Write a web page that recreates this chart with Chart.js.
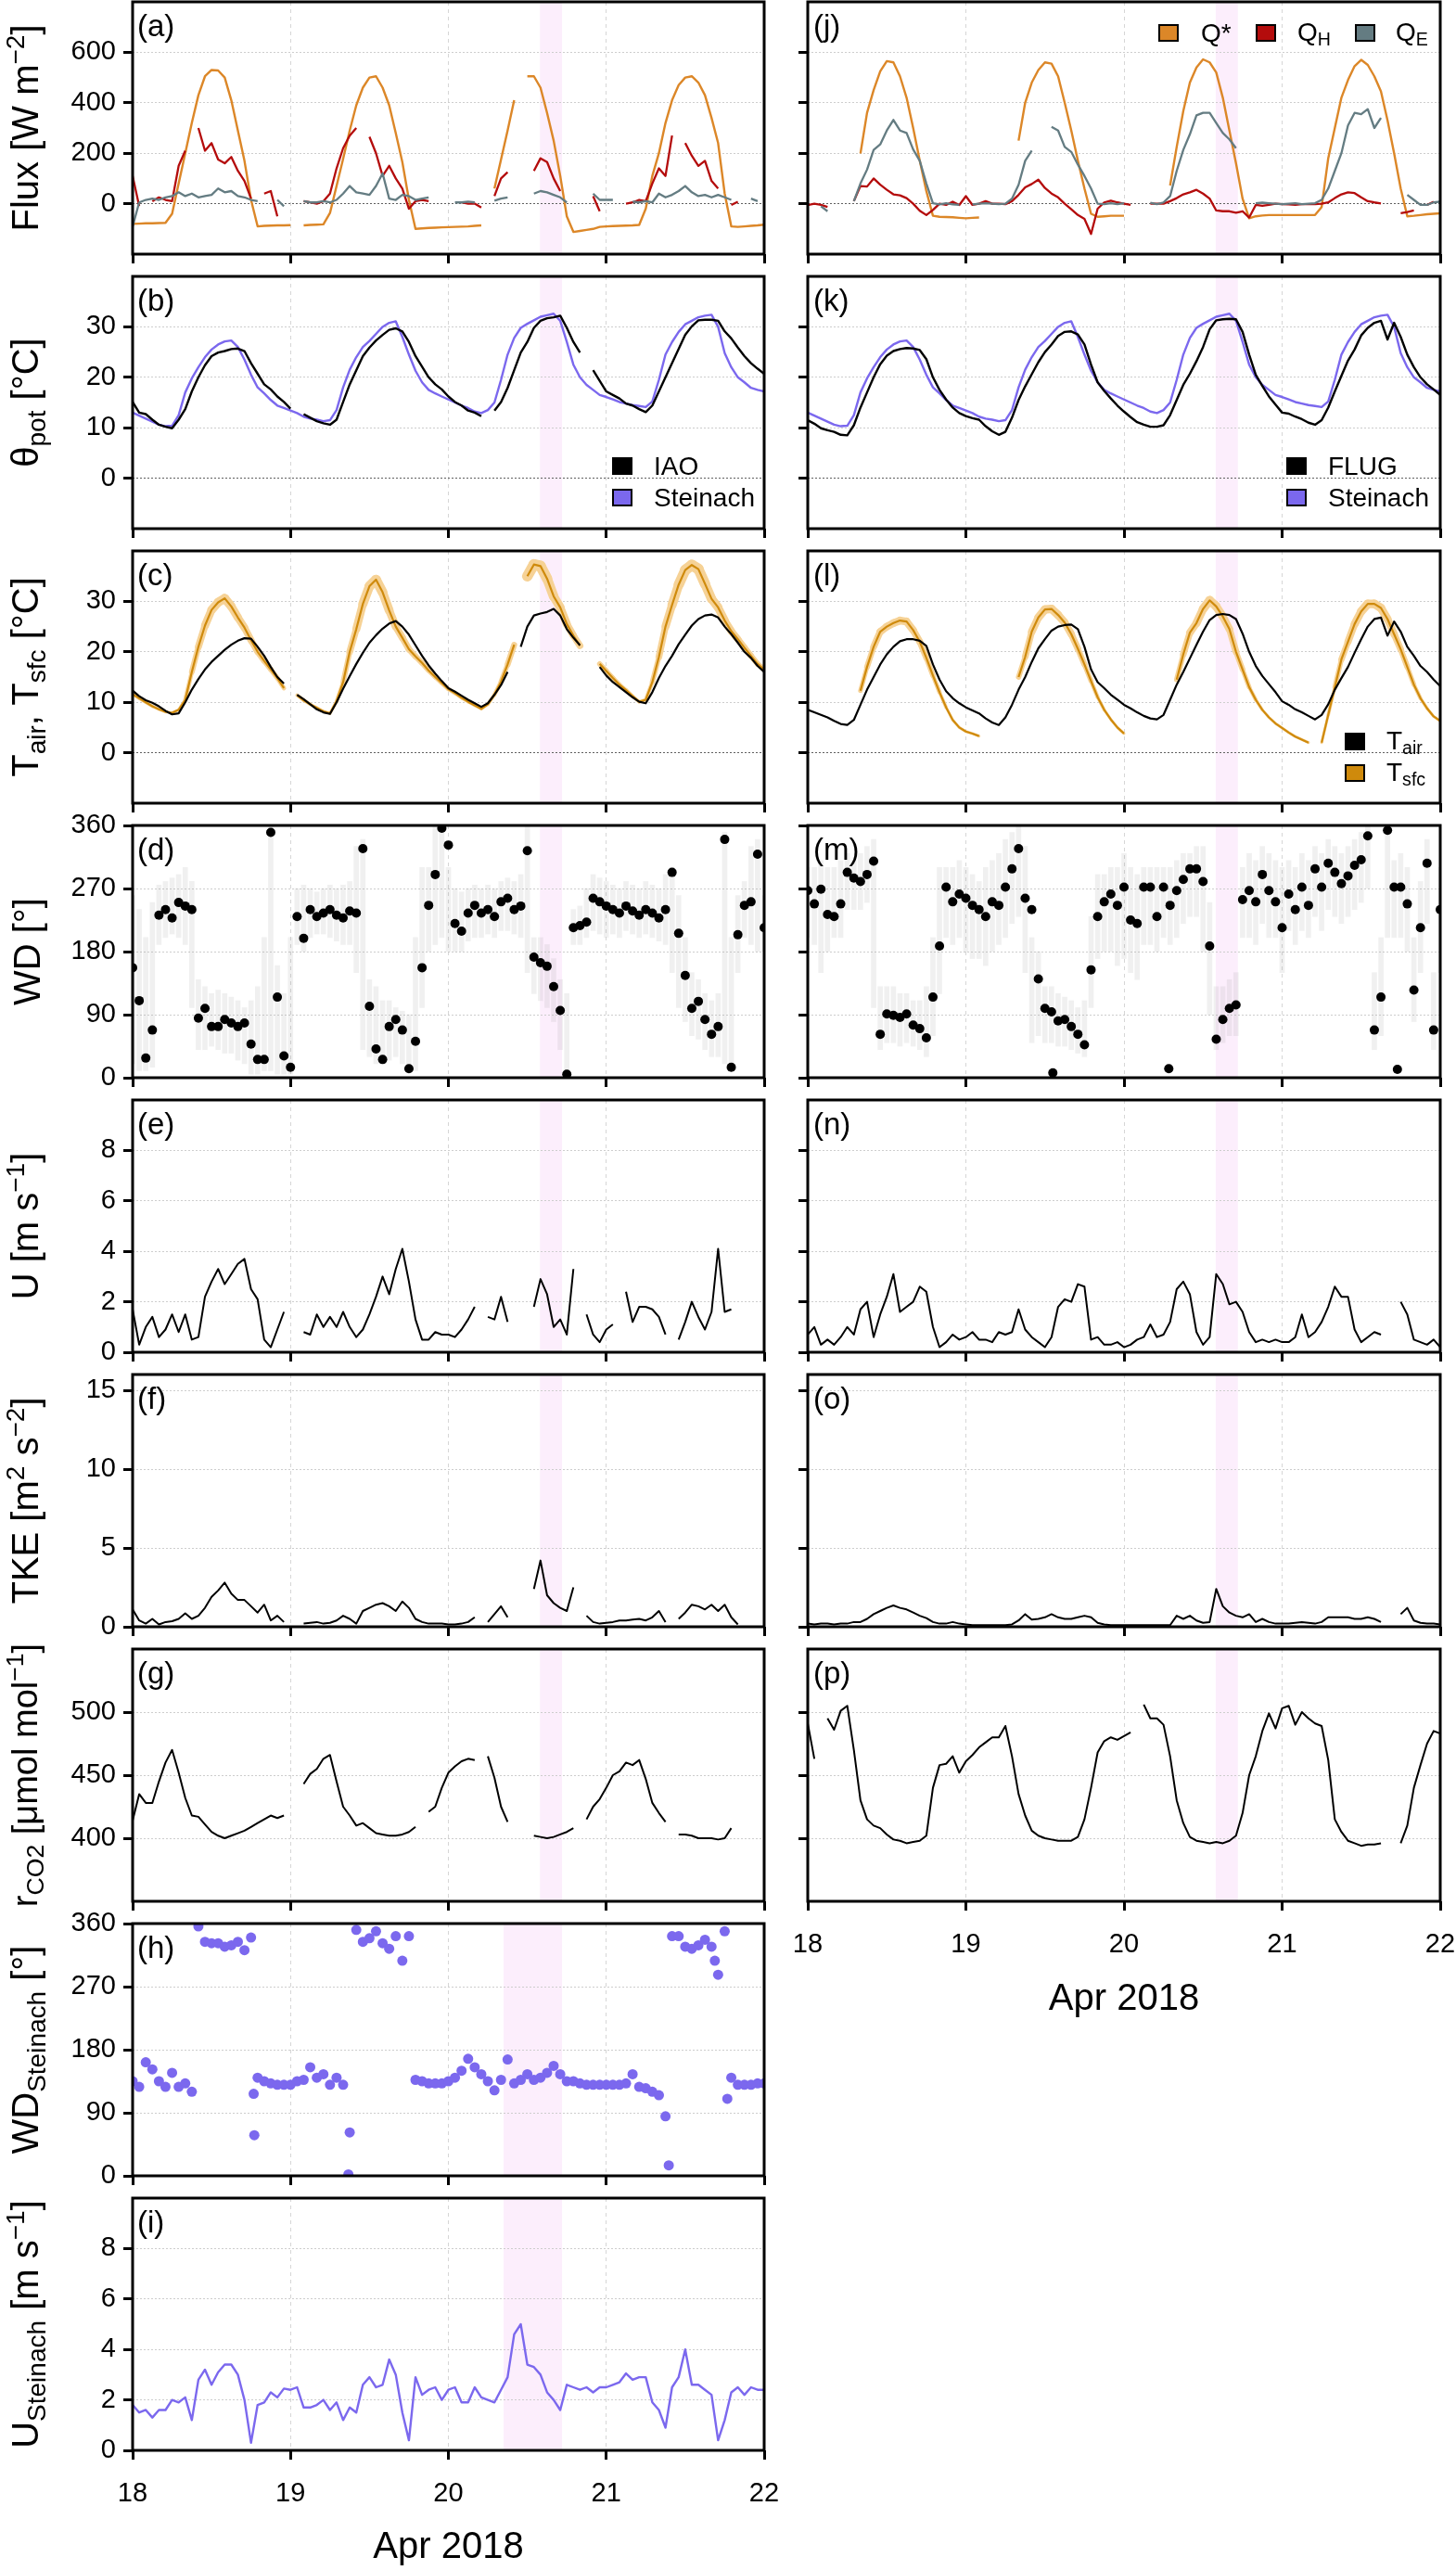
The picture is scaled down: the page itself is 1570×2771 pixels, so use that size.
<!DOCTYPE html>
<html>
<head>
<meta charset="utf-8">
<title>Fluxes and meteorology, 18-22 Apr 2018</title>
<script src="https://cdn.jsdelivr.net/npm/chart.js@4.4.1/dist/chart.umd.min.js"></script>
<style>
  html, body { margin: 0; padding: 0; background: #fff; }
  body { position: relative; width: 1570px; height: 2771px; overflow: hidden; font-family: "Liberation Sans", Arial, sans-serif; color: #000; }
  canvas { position: absolute; }
  .yt { position: absolute; left: 29px; transform: translate(-50%, -50%) rotate(-90deg); font-size: 40px; line-height: 40px; white-space: nowrap; }
  .tag { position: absolute; font-size: 33px; line-height: 33px; white-space: nowrap; }
  .sq { position: absolute; width: 22px; height: 19px; border: 2px solid #000; box-sizing: border-box; }
  .lab { position: absolute; font-size: 28px; line-height: 28px; transform: translateY(-50%); white-space: nowrap; }
  .sub { font-size: 0.7em; position: relative; top: 0.28em; }
  .sup { font-size: 0.7em; position: relative; top: -0.55em; }
</style>
</head>
<body>
<script>
// x axis: hourly values, index 0 = 18 Apr 00:00 ... index 96 = 22 Apr 00:00
const dayTicks = [18, 19, 20, 21, 22];
const eventSpan = [20.58, 20.72];          // pink band, panels a-g, j-p
const eventSpanSteinach = [20.35, 20.72];  // pink band, panels h-i

// (a) IAO fluxes [W m-2]
const qStarIao = [
  -80, -79, -78, -78, -77, -76, -40, 80, 200, 320, 430, 505, 530, 528, 500, 410, 290, 170, 15, -90, -88, -87, -86, -86,
  -85, null, -86, -84, -83, -82, -37, 70, 178, 290, 390, 460, 500, 505, 460, 390, 280, 165, 15, -100, -98, -96, -95, -94,
  -93, -92, -91, -90, -88, -86, null, 60, 175, 290, 410, null, 505, 505, 460, 360, 250, 110, -50, -112, -108, -104, -100, -92,
  -90, -89, -88, -87, -86, -84, -20, 110, 200, 320, 410, 470, 500, 505, 480, 430, 340, 240, 40, -90, -92, -90, -88, -86, -83];
const qhIao = [
  110, -10, null, 10, 25, 15, 10, 150, 210, null, 300, 210, 240, 175, 160, 185, 130, 90, 20, null, 40, 50, -50, null,
  null, null, 10, 5, 0, 10, 40, 140, 220, 270, 300, null, 265, 200, 110, 150, 100, 60, -20, 10, 15, 10, null, null,
  null, null, 5, 0, 0, -15, null, 30, 100, 125, null, null, null, 130, 180, 165, 100, 50, null, null, null, null, 30, -30,
  null, null, null, 0, 5, 15, 10, 80, 140, 110, 270, null, 240, 190, 150, 170, 90, 60, null, -5, 8, null, null, null, null];
const qeIao = [
  -90, 5, 15, 20, 15, 25, 30, 45, 30, 40, 25, 30, 35, 60, 45, 50, 30, 25, 15, 10, null, null, 15, -10,
  null, null, 10, 5, 5, 10, 5, 15, 40, 70, 45, 40, 35, 70, 120, 20, 15, 35, 30, 15, 20, 25, null, null,
  null, 5, 5, 8, 5, null, null, 12, 20, 25, null, null, null, 40, 50, 45, 35, 25, 5, null, null, null, 40, 15,
  15, 15, null, null, 8, 5, 10, 5, 40, 25, 35, 50, 70, 45, 30, 35, 25, 35, 25, 15, null, null, 20, 10, null];

// (j) FLUG fluxes [W m-2]
const qStarFlug = [
  null, null, null, null, null, null, null, null, 199, 360, 450, 525, 565, 560, 505, 420, 300, 170, 50, -48, -52, -53, -54, -56,
  -58, -56, -55, null, null, null, null, null, 250, 400, 480, 530, 560, 555, 505, 400, 290, 170, 60, -40, -52, -50, -48, -48,
  -48, null, null, null, null, null, null, 72, 225, 367, 480, 540, 572, 560, 520, 420, 290, 160, 20, -58, -50, -47, -45, -45,
  -45, -45, -45, -45, -45, -45, -13, 180, 300, 420, 490, 545, 570, 550, 505, 445, 330, 200, 60, -50, -48, -45, -42, -40, -38];
const qhFlug = [
  -6, 0, -5, -13, null, null, null, 10, 70, 68, 100, 75, 55, 37, 33, 22, 0, -28, -45, -25, 0, -5, 8, -5,
  30, -5, 0, 10, 0, 0, -2, 10, 35, 65, 78, 95, 62, 40, 25, 0, -22, -45, -60, -120, -20, 5, 12, 5,
  0, -5, null, null, 0, 0, 0, 10, 22, 37, 45, 55, 40, 20, -27, -30, -30, -36, -30, -55, -5, -8, -5, 0,
  -2, -3, -5, -2, -2, -2, 0, 5, 22, 37, 45, 42, 25, 10, 5, 1, null, null, -38, -33, -27, null, -5, 8, null];
const qeFlug = [
  null, null, -10, -30, null, null, null, 10, 80, 135, 213, 235, 290, 332, 290, 280, 215, 170, 80, 2, -3, 2, -3, -5,
  null, -3, 0, 2, 0, -2, 0, 20, 75, 170, 210, null, null, 305, 290, 225, 205, 155, 110, 60, 0, -2, 2, -2,
  2, null, null, null, 4, -2, 5, 30, 130, 213, 275, 350, 360, 360, 320, 280, 255, 220, null, null, 2, 4, 2, 0,
  -2, 0, 2, -2, 0, 2, 15, 60, 130, 200, 310, 360, 355, 375, 300, 340, null, null, null, 35, 15, -5, -5, 5, 8];

// (b)/(k) potential temperature [°C]
const thetaIao = [
  15.1, 13, 12.7, 11.6, 10.6, 10.2, 9.9, 11.6, 13.7, 17.2, 20, 22.4, 24.2, 24.9, 25.2, 25.6, 25.7, 25.2, 22.8, 20.7, 18.6, 17.6, 16.2, 15.1,
  13.8, null, 12.7, 12, 11.3, 10.9, 10.6, 11.6, 15.1, 18.6, 21.4, 24.2, 25.9, 27.3, 28.4, 29.4, 29.7, 29.1, 27, 24.2, 22.1, 20, 18.6, 17.6,
  16.2, 15.1, 14.4, 13.4, 13, 12.3, null, 13.4, 15.1, 17.9, 21.4, 24.9, 27, 29.8, 31.2, 31.7, 31.9, 32.2, 29.8, 27, 24.9, null, 21.4, 19.3,
  17.2, 16.5, 15.8, 14.8, 14.4, 13.7, 13.1, 14.4, 17.2, 20, 22.8, 25.6, 28.4, 30.1, 31.3, 31.4, 31.4, 31.2, 29.1, 27.7, 25.9, 24.2, 22.8, 21.7, 20.7];
const thetaSteinach = [
  13, 12.4, 11.8, 11.2, 10.6, 10.3, 10.4, 12.5, 17, 19.8, 22, 24, 25.5, 26.5, 27.1, 27.3, 26, 23.5, 20.5, 18, 16.8, 15.5, 14.4, 13.9,
  13.4, 12.9, 12.2, 11.8, 11.6, 11.3, 11.5, 13.5, 18, 21.5, 24, 26, 27.2, 28.6, 30, 30.8, 31.1, 28, 24.5, 21.3, 19, 17.5, 16.8, 16.2,
  15.6, 15, 14.4, 13.9, 13.2, 12.9, 13.5, 15, 19.5, 24.5, 27.8, 29.8, 30.6, 31.3, 32, 32.3, 32.6, 31.2, 27, 22.5, 20, 18.5, 17.5, 16.5,
  16.1, 15.6, 15.1, 14.8, 14.5, 14.3, 14.1, 15.2, 19.5, 24.5, 27, 29, 30.5, 31.2, 31.9, 32.2, 32.4, 30, 24.8, 22, 20, 19, 17.9, 17.5, 17.2];
const thetaFlug = [
  11.5, 10.8, 9.9, 9.5, 9.2, 8.6, 8.5, 10.5, 14, 17, 20, 22.6, 24.3, 25.2, 25.6, 25.8, 25.7, 25.4, 23.6, 20, 17.5, 15.6, 14, 12.9,
  12.3, 11.9, 11.6, 10.3, 9.3, 8.6, 9.2, 12, 15.5, 18.2, 20.6, 23, 25, 26.5, 28.2, 29, 29.1, 28.5, 26.5, 22.5, 19, 17.3, 15.8, 14.4,
  13.2, 12.1, 11.1, 10.6, 10.2, 10.2, 10.5, 12.5, 15.5, 18.5, 20.7, 23.2, 26, 29.5, 31.3, 31.5, 31.6, 31.5, 29, 24.5, 20.5, 18.3, 16.2, 14.6,
  13, 12.8, 12.2, 11.7, 11, 10.6, 11.5, 14, 17.2, 20.3, 23.3, 25.5, 28.3, 29.8, 30.8, 31.2, 27.5, 30.8, 28, 24.5, 22, 20, 18.6, 17.6, 16.5];

// (c)/(l) air and surface temperature [°C]
const tairIao = [
  12.3, 11.2, 10.4, 9.9, 9.2, 8.3, 7.6, 7.8, 10, 12.5, 14.6, 16.5, 18, 19.2, 20.4, 21.4, 22.2, 22.7, 22.6, 21, 19.2, 17, 15, 13.7,
  null, 11.5, 10.6, 9.6, 8.6, 8, 7.7, 10, 12.7, 15.2, 17.6, 19.8, 21.8, 23.3, 24.6, 25.6, 26.1, 25, 23.4, 21.3, 19.2, 17.3, 15.7, 14.2,
  12.8, 12.1, 11.3, 10.5, 9.8, 9.1, 9.8, 11.5, 13.4, 16, null, 21, 25, 27.2, 27.6, 27.9, 28.5, 27.2, 24.5, 22.8, 21.3, null, null, 17,
  15.3, 14, 13, 12, 11, 10.1, 9.8, 12, 14.8, 17.2, 19.2, 21.5, 23.4, 25.2, 26.5, 27.2, 27.4, 26.8, 25, 23.5, 21.8, 20, 18.8, 17.2, 16];
const tsfcIao = [
  11.6, 10.8, 10, 9.2, 8.6, 8.1, 7.9, 8.5, 10.5, 16, 21, 25.2, 28.3, 29.8, 30.6, 29, 26.8, 24.8, 22.3, 20, 18.2, 16.5, 14.8, 12.8,
  null, 11.4, 10.4, 9.6, 8.9, 8.2, 7.8, 10.2, 14, 20, 24.5, 29.5, 33, 34.3, 31.8, 28.2, 25, 22.8, 20.5, 19.1, 17.8, 16.3, 15, 13.8,
  12.6, 11.8, 10.9, 10.1, 9.4, 8.7, 9.6, 11.5, 14.1, 17.5, 21.4, null, 35, 37.3, 37, 34.5, 31, 28.8, 25.5, 23.2, 21.2, null, null, 17.6,
  16.2, 14.8, 13.5, 12.4, 11.2, 10.1, 10.5, 14, 19, 25, 29.3, 33.3, 36.2, 37.2, 36.4, 33.5, 30.5, 28.8, 26.2, 24.1, 22.5, 20.8, 19.2, 17.6, 16.5];
const tairFlug = [
  8.5, 8, 7.5, 7, 6.3, 5.7, 5.5, 6.5, 9.5, 12.5, 15, 17.5, 19.5, 21, 22.1, 22.5, 22.5, 22.2, 21.2, 17.5, 14.5, 12.2, 10.8, 9.8,
  9, 8.4, 7.8, 6.8, 6, 5.5, 7, 9.5, 12.5, 15, 18, 20.7, 22.5, 24.2, 25, 25.3, 25.4, 24.5, 21, 16.5, 14, 12.8, 11.5, 10.5,
  9.5, 8.8, 8, 7.3, 6.8, 6.6, 7.5, 10.5, 13.5, 16, 18.7, 21.4, 24, 26.3, 27.3, 27.5, 27.3, 26.5, 23.6, 20, 17.2, 15.2, 13.6, 12,
  10.2, 9.5, 8.6, 8, 7.3, 6.6, 7.5, 9.6, 12.5, 14.8, 17, 19.8, 22.5, 25, 26.5, 26.8, 23.2, 26, 24, 21, 19.2, 17.2, 16, 14.5, 13.2];
const tsfcFlug = [
  null, null, null, null, null, null, null, null, 12.3, 17, 21, 24, 25, 25.7, 26.2, 26, 24.3, 22, 18.8, 15.3, 12, 9, 6.5, 5,
  4.2, 3.8, 3.3, null, null, null, null, null, 15, 19, 24, 26.8, 28.4, 28.5, 27.3, 25.8, 23.5, 20.6, 17.5, 14.2, 11, 8.5, 6.6, 5,
  3.8, null, null, null, null, null, null, null, 14.5, 19.5, 23.8, 25.7, 28.5, 30.2, 29, 27, 24.5, 20, 16.5, 13, 10.5, 8.5, 7, 5.8,
  4.9, 4, 3.2, 2.6, 2, null, 2, 7.5, 13, 18.5, 22, 25.5, 28, 29.5, 29.5, 28.7, 26.5, 23.5, 20.5, 17, 13.5, 10.8, 8.8, 7.2, 6.3];

// (d)/(m) wind direction [°]: hourly means and spread of the 10-min values
const wdIao = [
  157, 110, 28, 68, 232, 240, 228, 250, 245, 240, 85, 99, 73, 73, 83, 78, 73, 78, 48, 26, 26, 350, 115, 31,
  15, 230, 199, 240, 230, 235, 240, 232, 228, 238, 235, 327, 102, 41, 26, 73, 83, 68, 13, 52, 157, 246, 290, 356,
  332, 220, 209, 235, 246, 235, 240, 230, 251, 256, 240, 245, 324, 172, 164, 159, 130, 96, 5, 214, 217, 222, 256, 251,
  245, 240, 235, 245, 238, 232, 240, 235, 228, 240, 293, 206, 146, 99, 109, 83, 62, 73, 340, 15, 204, 246, 251, 319, 214];
const wdIaoLo = [
  20, 10, 10, 15, 190, 200, 205, 200, 190, 100, 40, 40, 45, 40, 35, 35, 25, 20, 5, 5, 10, 10, 5, 5,
  5, 190, 180, 200, 205, 205, 200, 195, 190, 190, 150, 40, 30, 20, 20, 25, 30, 20, 10, 10, 100, 180, 190, 200,
  180, 180, 180, 195, 200, 200, 205, 200, 210, 210, 205, 200, 150, 120, 110, 100, 80, 40, 0, 190, 190, 200, 210, 205,
  200, 205, 200, 210, 205, 200, 205, 200, 195, 190, 150, 100, 80, 60, 55, 40, 30, 30, 20, 10, 150, 200, 190, 180, 180];
const wdIaoHi = [
  260, 240, 200, 250, 275, 280, 285, 290, 300, 280, 140, 130, 120, 125, 120, 115, 110, 100, 110, 130, 200, 360, 160, 120,
  200, 270, 275, 270, 265, 270, 275, 270, 275, 280, 330, 340, 140, 130, 110, 110, 100, 95, 90, 200, 300, 300, 360, 360,
  300, 270, 265, 270, 275, 270, 275, 270, 280, 285, 280, 290, 360, 200, 200, 190, 170, 140, 120, 240, 245, 270, 290, 285,
  280, 275, 270, 280, 275, 270, 280, 275, 270, 290, 300, 260, 200, 150, 140, 120, 110, 120, 350, 200, 260, 280, 330, 340, 260];
const wdFlug = [
  267, 248, 269, 233, 230, 248, 293, 285, 280, 290, 309, 62, 91, 89, 86, 91, 75, 70, 57, 115, 188, 272, 251, 262,
  256, 246, 240, 230, 251, 246, 272, 298, 327, 256, 240, 141, 99, 94, 81, 83, 73, 62, 47, 154, 230, 251, 262, 246,
  272, 225, 220, 272, 272, 230, 272, 246, 267, 283, 298, 298, 280, 188, 55, 83, 99, 104, 254, 267, 251, 290, 267, 251,
  214, 262, 240, 272, 246, 298, 272, 306, 293, 277, 288, 303, 311, 345, 68, 115, 353, 272, 272, 248, 125, 214, 306, 68, 240];
const wdFlugExtraHour = [37.2, 54.8, 89.5];
const wdFlugExtra = [7, 13, 12];
const wdFlugLo = [
  200, 190, 150, 180, 200, 200, 240, 240, 240, 250, 100, 40, 50, 50, 45, 50, 45, 40, 30, 60, 120, 200, 190, 200,
  180, 170, 170, 160, 180, 190, 200, 220, 230, 150, 50, 60, 50, 50, 45, 45, 40, 35, 30, 100, 170, 180, 180, 160,
  170, 150, 140, 190, 190, 180, 200, 190, 200, 220, 230, 230, 180, 90, 40, 50, 60, 60, 200, 200, 190, 220, 200, 200,
  150, 210, 190, 210, 200, 230, 210, 240, 230, 220, 230, 240, 250, 270, 40, 60, 200, 200, 200, 180, 80, 150, 220, 40, 150];
const wdFlugHi = [
  300, 300, 310, 300, 300, 310, 320, 310, 320, 330, 340, 130, 130, 130, 120, 120, 110, 110, 130, 200, 300, 300, 300, 310,
  300, 290, 280, 300, 310, 320, 340, 350, 360, 330, 200, 180, 130, 130, 120, 115, 110, 100, 110, 230, 290, 290, 300, 300,
  320, 300, 290, 300, 300, 300, 300, 300, 310, 320, 320, 330, 330, 250, 130, 130, 140, 150, 300, 320, 310, 330, 320, 310,
  300, 310, 300, 320, 310, 330, 320, 340, 330, 320, 330, 340, 350, 360, 150, 200, 360, 310, 320, 300, 200, 280, 340, 150, 300];

// (e)/(n) wind speed [m s-1]
const uIao = [
  1.7, 0.3, 1.0, 1.4, 0.6, 0.9, 1.5, 0.8, 1.5, 0.5, 0.6, 2.2, 2.8, 3.3, 2.7, 3.1, 3.5, 3.7, 2.5, 2.1, 0.5, 0.2, 0.9, 1.6,
  null, null, 0.8, 0.7, 1.5, 1.0, 1.4, 1.0, 1.6, 1.0, 0.6, 0.9, 1.5, 2.2, 3.0, 2.3, 3.3, 4.1, 2.8, 1.3, 0.5, 0.5, 0.8, 0.7,
  0.7, 0.6, 0.9, 1.3, 1.8, null, 1.4, 1.3, 2.2, 1.2, null, null, null, 1.8, 2.9, 2.3, 1.0, 1.3, 0.7, 3.3, null, 1.5, 0.7, 0.4,
  0.9, 1.1, null, 2.4, 1.2, 1.8, 1.8, 1.7, 1.4, 0.7, null, 0.5, 1.2, 2.0, 1.4, 0.9, 1.6, 4.1, 1.6, 1.7, null, null, null, null, null];
const uFlug = [
  0.7, 1.0, 0.3, 0.5, 0.3, 0.6, 1.0, 0.7, 1.7, 2.0, 0.6, 1.5, 2.2, 3.1, 1.6, 1.8, 2.0, 2.6, 2.4, 1.0, 0.2, 0.4, 0.7, 0.5,
  0.6, 0.8, 0.5, 0.5, 0.4, 0.8, 0.7, 0.8, 1.7, 0.9, 0.6, 0.4, 0.2, 0.6, 1.8, 2.1, 2.0, 2.7, 2.6, 0.5, 0.6, 0.3, 0.3, 0.4,
  0.2, 0.3, 0.5, 0.6, 1.1, 0.6, 0.7, 1.2, 2.5, 2.8, 2.3, 0.8, 0.3, 0.6, 3.1, 2.7, 1.9, 2.0, 1.6, 0.8, 0.4, 0.5, 0.4, 0.5,
  0.4, 0.4, 0.6, 1.5, 0.6, 0.8, 1.2, 1.8, 2.6, 2.2, 2.2, 0.9, 0.4, 0.6, 0.8, 0.7, null, null, 2.0, 1.5, 0.5, 0.4, 0.3, 0.5, 0.2];

// (f)/(o) turbulent kinetic energy [m2 s-2]
const tkeIao = [
  1.1, 0.4, 0.2, 0.5, 0.15, 0.3, 0.35, 0.5, 0.85, 0.5, 0.7, 1.2, 1.9, 2.3, 2.8, 2.1, 1.7, 1.7, 1.3, 0.9, 1.4, 0.4, 0.7, 0.3,
  null, null, 0.2, 0.25, 0.3, 0.2, 0.25, 0.4, 0.7, 0.5, 0.2, 1.0, 1.2, 1.4, 1.5, 1.3, 1.0, 1.6, 1.2, 0.5, 0.3, 0.2, 0.2, 0.2,
  0.15, 0.15, 0.2, 0.3, 0.6, null, 0.3, 0.8, 1.3, 0.6, null, null, null, 2.4, 4.2, 2.0, 1.5, 1.2, 1.0, 2.5, null, 0.7, 0.3, 0.2,
  0.25, 0.3, 0.4, 0.4, 0.45, 0.5, 0.4, 0.6, 1.0, 0.3, null, 0.5, 0.9, 1.4, 1.3, 1.1, 1.4, 1.0, 1.4, 0.6, 0.15, null, null, null, null];
const tkeFlug = [
  0.2, 0.15, 0.2, 0.2, 0.15, 0.2, 0.2, 0.3, 0.3, 0.5, 0.8, 1.0, 1.2, 1.35, 1.2, 1.1, 0.9, 0.7, 0.55, 0.3, 0.2, 0.2, 0.3, 0.2,
  0.15, 0.1, 0.1, 0.1, 0.1, 0.1, 0.1, 0.15, 0.4, 0.8, 0.45, 0.5, 0.6, 0.8, 0.6, 0.5, 0.5, 0.6, 0.7, 0.6, 0.25, 0.15, 0.1, 0.1,
  0.1, 0.1, 0.1, 0.1, 0.1, 0.1, 0.1, 0.1, 0.7, 0.5, 0.7, 0.4, 0.25, 0.3, 2.4, 1.3, 0.9, 0.7, 0.6, 0.8, 0.3, 0.5, 0.3, 0.2,
  0.2, 0.2, 0.25, 0.3, 0.25, 0.2, 0.3, 0.6, 0.6, 0.6, 0.6, 0.5, 0.5, 0.6, 0.5, 0.3, null, null, 0.8, 1.2, 0.4, 0.25, 0.2, 0.2, 0.15];

// (g)/(p) CO2 mixing ratio [µmol mol-1]
const co2Iao = [
  414, 435, 428, 428, 445, 460, 470, 452, 432, 418, 417, 411, 405, 402, 400, 402, 404, 406, 409, 412, 415, 418, 416, 418,
  null, null, 443, 451, 455, 463, 466, 445, 425, 418, 410, 412, 408, 404, 403, 402, 402, 403, 405, 409, null, 421, 425, 440,
  452, 457, 461, 463, 462, null, 465, 448, 425, 413, null, null, null, 402, 401, 400, 401, 403, 405, 408, null, 415, 425, 431,
  440, 450, 453, 460, 458, 462, 447, 428, 420, 413, null, 403, 403, 402, 400, 400, 400, 399, 400, 408, null, null, null, null, null];
const co2Flug = [
  491, 463, null, 495, 486, 501, 505, 470, 430, 415, 410, 408, 403, 399, 398, 396, 397, 398, 402, 440, 458, 459, 465, 452,
  461, 466, 472, 476, 480, 480, 489, 465, 435, 418, 406, 402, 400, 399, 398, 398, 398, 401, 415, 440, 468, 477, 480, 478,
  481, 484, null, 506, 495, 495, 490, 465, 430, 412, 401, 398, 397, 396, 397, 396, 398, 402, 420, 450, 465, 485, 499, 487,
  503, 505, 490, 500, 495, 491, 489, 462, 415, 405, 398, 396, 394, 395, 395, 396, null, null, 396, 410, 440, 458, 475, 485, 483];

// (h)/(i) Steinach wind direction [°] and speed [m s-1]
const wdSteinach = [
  135, 127, 162, 152, 135, 127, 147, 127, 132, 120, 356, 334, 332, 332, 327, 329, 334, 322, 340, 140, 135, 132, 130, 130,
  130, 135, 137, 155, 140, 145, 130, 140, 130, 62, 351, 334, 339, 349, 332, 324, 342, 307, 342, 137, 135, 132, 132, 132,
  135, 140, 150, 167, 155, 145, 135, 122, 137, 166, 132, 137, 145, 137, 140, 147, 157, 145, 135, 135, 132, 130, 130, 130,
  130, 130, 130, 132, 145, 127, 125, 120, 115, 85, 342, 342, 327, 324, 329, 337, 327, 287, 349, 140, 130, 130, 130, 132, 132];
const wdSteinachExtraHour = [18.4, 18.5, 32.8, 81.5, 88.5, 90.4];
const wdSteinachExtra = [117, 58, 2, 15, 307, 110];
const uSteinach = [
  1.8, 1.5, 1.6, 1.3, 1.6, 1.6, 2.0, 1.9, 2.1, 1.2, 2.8, 3.2, 2.6, 3.1, 3.4, 3.4, 3.0, 2.0, 0.3, 1.8, 1.9, 2.3, 2.1, 2.45,
  2.4, 2.5, 1.7, 1.7, 1.8, 2.0, 1.6, 1.9, 1.2, 1.7, 1.5, 2.6, 2.9, 2.5, 2.6, 3.6, 3.0, 1.5, 0.4, 2.9, 2.2, 2.4, 2.5, 2.0,
  2.4, 2.5, 1.9, 1.9, 2.5, 2.1, 2.0, 1.9, 2.4, 2.9, 4.6, 5.0, 3.4, 3.3, 3.0, 2.3, 2.0, 1.6, 2.6, 2.5, 2.4, 2.5, 2.3, 2.5,
  2.5, 2.6, 2.7, 3.05, 2.8, 2.9, 2.9, 1.9, 1.6, 0.9, 2.5, 2.9, 4.0, 2.6, 2.6, 2.4, 2.2, 0.4, 1.2, 2.3, 2.5, 2.2, 2.5, 2.4, 2.4];

const COL = {
  qstar: '#DC8728', qh: '#B40C0C', qe: '#647C82', steinach: '#7B68EE',
  sfc: '#CF8A0C', sfcBand: '#F6D296', black: '#000000'
};

// helpers
const toXY = arr => arr.map((v, i) => ({x: 18 + i / 24, y: v}));
const toXYh = (hrs, vals) => hrs.map((h, i) => ({x: 18 + h / 24, y: vals[i]}));

function line(arr, color, w) {
  return {data: toXY(arr), borderColor: color, backgroundColor: color, borderWidth: w,
          pointRadius: 0, spanGaps: false, fill: false, tension: 0, borderJoinStyle: 'round'};
}
function dots(data, color, r) {
  return {data: data, showLine: false, pointRadius: r, pointBackgroundColor: color,
          pointBorderWidth: 0, borderColor: color, backgroundColor: color};
}
function sfcBand(arr) {
  return {data: toXY(arr), borderColor: COL.sfcBand, borderWidth: 4, pointRadius: 0, spanGaps: false,
          fill: false, borderCapStyle: 'round', borderJoinStyle: 'round',
          segment: {borderWidth: c => 3 + Math.max(0, (c.p0.parsed.y + c.p1.parsed.y) / 2 - 8) * 0.3}};
}
function spread(lo, hi) {
  return {type: 'bar', data: lo.map((v, i) => ({x: 18 + i / 24, y: [v, hi[i]]})),
          backgroundColor: 'rgba(150,150,150,0.14)', borderWidth: 0, barThickness: 5, grouped: false};
}

const eventBand = {
  id: 'eventBand',
  beforeDraw(chart, args, opts) {
    if (!opts || !opts.range) return;
    const a = chart.chartArea, xs = chart.scales.x, ctx = chart.ctx;
    const x0 = xs.getPixelForValue(opts.range[0]), x1 = xs.getPixelForValue(opts.range[1]);
    ctx.save();
    ctx.fillStyle = '#FCEEFC';
    ctx.fillRect(x0, a.top, x1 - x0, a.bottom - a.top);
    ctx.restore();
  }
};
const frame = {
  id: 'frame',
  afterDraw(chart) {
    const a = chart.chartArea, ctx = chart.ctx;
    ctx.save();
    ctx.lineWidth = 3;
    ctx.strokeStyle = '#000';
    ctx.strokeRect(a.left, a.top, a.right - a.left, a.bottom - a.top);
    ctx.restore();
  }
};

Chart.defaults.font.family = '"Liberation Sans", Arial, sans-serif';
Chart.defaults.color = '#000';

const COLS = [{x: 0, w: 850, axis: 143, padR: 26}, {x: 851, w: 719, axis: 20, padR: 17}];
const TOPS = [2, 298, 594, 890, 1186, 1482, 1778, 2074, 2370];
const PH = 272, PADT = 20;

function panel(col, row, o) {
  const c = COLS[col];
  const top = TOPS[row];
  const xh = o.xh || 22;
  const h = PADT + PH + xh;
  const cv = document.createElement('canvas');
  cv.width = c.w; cv.height = h;
  cv.style.left = c.x + 'px'; cv.style.top = (top - PADT) + 'px';
  cv.style.width = c.w + 'px'; cv.style.height = h + 'px';
  document.body.appendChild(cv);
  new Chart(cv, {
    type: 'line',
    data: {datasets: o.datasets},
    options: {
      responsive: false, animation: false, devicePixelRatio: 1,
      layout: {padding: {top: PADT, right: c.padR, left: 0, bottom: 0}},
      plugins: {legend: {display: false}, tooltip: {enabled: false}, eventBand: {range: o.band}},
      scales: {
        x: {
          type: 'linear', min: 18, max: 22, offset: false,
          afterBuildTicks: s => { s.ticks = dayTicks.map(v => ({value: v})); },
          afterFit: s => { s.height = xh; s.paddingLeft = 0; s.paddingRight = 0; },
          grid: {color: '#d6d6d6', lineWidth: 1, tickColor: '#000', tickWidth: 3, tickLength: 10, offset: false},
          border: {display: false, dash: [4, 4]},
          ticks: {display: !!o.xLabels, padding: 20, font: {size: 29}, maxRotation: 0, autoSkip: false},
          title: {display: !!o.xLabels, text: 'Apr 2018', font: {size: 40}, padding: 0}
        },
        y: {
          type: 'linear', min: o.ymin, max: o.ymax,
          afterBuildTicks: s => { s.ticks = o.yticks.map(v => ({value: v})); },
          afterFit: s => { s.width = c.axis; s.paddingTop = 0; s.paddingBottom = 0; },
          grid: {
            color: ctx => (o.zero && ctx.tick && ctx.tick.value === 0) ? '#606060' : '#cdcdcd',
            lineWidth: 1, tickColor: '#000', tickWidth: 3, tickLength: 10
          },
          border: {display: false, dash: [2, 2]},
          ticks: {display: col === 0, padding: 8, font: {size: 29}, autoSkip: false}
        }
      }
    },
    plugins: [eventBand, frame]
  });
}

// left column: IAO
panel(0, 0, {ymin: -200, ymax: 800, yticks: [0, 200, 400, 600], zero: true, band: eventSpan,
  datasets: [line(qeIao, COL.qe, 2.3), line(qhIao, COL.qh, 2.3), line(qStarIao, COL.qstar, 2.4)]});
panel(0, 1, {ymin: -10, ymax: 40, yticks: [0, 10, 20, 30], zero: true, band: eventSpan,
  datasets: [line(thetaIao, COL.black, 2.4), line(thetaSteinach, COL.steinach, 2.4)]});
panel(0, 2, {ymin: -10, ymax: 40, yticks: [0, 10, 20, 30], zero: true, band: eventSpan,
  datasets: [line(tairIao, COL.black, 2.2), line(tsfcIao, COL.sfc, 2.2), sfcBand(tsfcIao)]});
panel(0, 3, {ymin: 0, ymax: 360, yticks: [0, 90, 180, 270, 360], band: eventSpan,
  datasets: [dots(toXY(wdIao), COL.black, 5), spread(wdIaoLo, wdIaoHi)]});
panel(0, 4, {ymin: 0, ymax: 10, yticks: [0, 2, 4, 6, 8], band: eventSpan,
  datasets: [line(uIao, COL.black, 2)]});
panel(0, 5, {ymin: 0, ymax: 16, yticks: [0, 5, 10, 15], band: eventSpan,
  datasets: [line(tkeIao, COL.black, 2)]});
panel(0, 6, {ymin: 350, ymax: 550, yticks: [400, 450, 500], band: eventSpan,
  datasets: [line(co2Iao, COL.black, 2)]});
panel(0, 7, {ymin: 0, ymax: 360, yticks: [0, 90, 180, 270, 360], band: eventSpanSteinach,
  datasets: [dots(toXY(wdSteinach), COL.steinach, 5.5), dots(toXYh(wdSteinachExtraHour, wdSteinachExtra), COL.steinach, 5.5)]});
panel(0, 8, {ymin: 0, ymax: 10, yticks: [0, 2, 4, 6, 8], band: eventSpanSteinach, xLabels: true, xh: 129,
  datasets: [line(uSteinach, COL.steinach, 2.4)]});

// right column: FLUG
panel(1, 0, {ymin: -200, ymax: 800, yticks: [0, 200, 400, 600], zero: true, band: eventSpan,
  datasets: [line(qeFlug, COL.qe, 2.3), line(qhFlug, COL.qh, 2.3), line(qStarFlug, COL.qstar, 2.4)]});
panel(1, 1, {ymin: -10, ymax: 40, yticks: [0, 10, 20, 30], zero: true, band: eventSpan,
  datasets: [line(thetaFlug, COL.black, 2.4), line(thetaSteinach, COL.steinach, 2.4)]});
panel(1, 2, {ymin: -10, ymax: 40, yticks: [0, 10, 20, 30], zero: true, band: eventSpan,
  datasets: [line(tairFlug, COL.black, 2.2), line(tsfcFlug, COL.sfc, 2.2), sfcBand(tsfcFlug)]});
panel(1, 3, {ymin: 0, ymax: 360, yticks: [0, 90, 180, 270, 360], band: eventSpan,
  datasets: [dots(toXY(wdFlug), COL.black, 5), dots(toXYh(wdFlugExtraHour, wdFlugExtra), COL.black, 5), spread(wdFlugLo, wdFlugHi)]});
panel(1, 4, {ymin: 0, ymax: 10, yticks: [0, 2, 4, 6, 8], band: eventSpan,
  datasets: [line(uFlug, COL.black, 2)]});
panel(1, 5, {ymin: 0, ymax: 16, yticks: [0, 5, 10, 15], band: eventSpan,
  datasets: [line(tkeFlug, COL.black, 2)]});
panel(1, 6, {ymin: 350, ymax: 550, yticks: [400, 450, 500], band: eventSpan, xLabels: true, xh: 130,
  datasets: [line(co2Flug, COL.black, 2)]});

// text: axis titles, panel tags, legends
function addEl(cls, x, y, html, extra) {
  const d = document.createElement('div');
  d.className = cls;
  d.style.left = x + 'px';
  d.style.top = y + 'px';
  if (html) d.innerHTML = html;
  if (extra) Object.assign(d.style, extra);
  document.body.appendChild(d);
  return d;
}
const yTitles = [
  'Flux [W m<span class="sup">\u22122</span>]',
  '\u03b8<span class="sub">pot</span> [\u00b0C]',
  'T<span class="sub">air</span>, T<span class="sub">sfc</span> [\u00b0C]',
  'WD [\u00b0]',
  'U [m s<span class="sup">\u22121</span>]',
  'TKE [m<span class="sup">2</span> s<span class="sup">\u22122</span>]',
  'r<span class="sub">CO2</span> [\u03bcmol mol<span class="sup">\u22121</span>]',
  'WD<span class="sub">Steinach</span> [\u00b0]',
  'U<span class="sub">Steinach</span> [m s<span class="sup">\u22121</span>]'
];
yTitles.forEach((t, i) => addEl('yt', 29, TOPS[i] + 136, t, i === 6 ? {fontSize: '38px'} : null));

'abcdefghi'.split('').forEach((l, i) => addEl('tag', 148, TOPS[i] + 9, '(' + l + ')'));
'jklmnop'.split('').forEach((l, i) => addEl('tag', 877, TOPS[i] + 9, '(' + l + ')'));

function legendItem(x, y, color, labelX, html) {
  addEl('sq', x, y, '', {background: color});
  addEl('lab', labelX, y + 10, html);
}
legendItem(1249, 26, COL.qstar, 1295, 'Q*');
legendItem(1354, 26, COL.qh, 1399, 'Q<span class="sub">H</span>');
legendItem(1461, 26, COL.qe, 1505, 'Q<span class="sub">E</span>');
legendItem(660, 493, COL.black, 705, 'IAO');
legendItem(660, 527, COL.steinach, 705, 'Steinach');
legendItem(1387, 493, COL.black, 1432, 'FLUG');
legendItem(1387, 527, COL.steinach, 1432, 'Steinach');
legendItem(1450, 790, COL.black, 1495, 'T<span class="sub">air</span>');
legendItem(1450, 824, COL.sfc, 1495, 'T<span class="sub">sfc</span>');
</script>
</body>
</html>
